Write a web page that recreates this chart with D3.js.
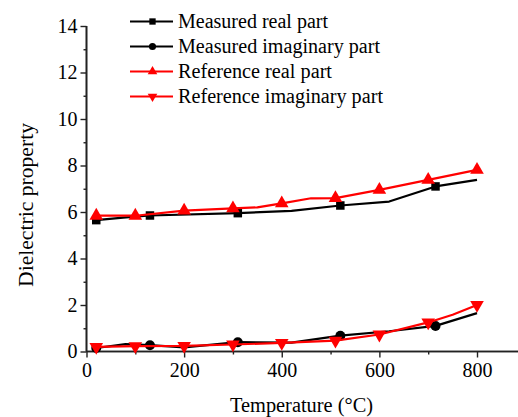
<!DOCTYPE html>
<html><head><meta charset="utf-8">
<script src="https://cdn.jsdelivr.net/npm/d3@7"></script>
<style>body{margin:0;background:#fff}svg{display:block}text{font-family:"Liberation Serif","Times New Roman",serif;fill:#000}</style>
</head><body><svg id="c" width="518" height="417"></svg>
<script>
// Data
const xMajorTicks = [0, 200, 400, 600, 800];
const xMinorTicks = [100, 300, 500, 700];
const yMajorTicks = [0, 2, 4, 6, 8, 10, 12, 14];
const yMinorTicks = [1, 3, 5, 7, 9, 11, 13];

const measRealT = [20, 75, 130, 310, 420, 520, 620, 715, 800];
const measRealV = [5.65, 5.76, 5.85, 5.95, 6.05, 6.28, 6.45, 7.1, 7.38];
const measRealMarkers = [20, 130, 310, 520, 715];

const measImagT = [20, 80, 130, 200, 310, 420, 520, 620, 715, 800];
const measImagV = [0.15, 0.32, 0.27, 0.18, 0.40, 0.38, 0.68, 0.87, 1.1, 1.65];
const measImagMarkers = [20, 130, 310, 520, 715];

const refRealT = [20, 100, 200, 300, 350, 400, 460, 510, 600, 700, 800];
const refRealV = [5.84, 5.84, 6.06, 6.16, 6.2, 6.37, 6.59, 6.6, 6.95, 7.38, 7.81];
const refRealMarkers = [20, 100, 200, 300, 400, 510, 600, 700, 800];

const refImagT = [20, 100, 200, 300, 400, 510, 600, 700, 750, 800];
const refImagV = [0.2, 0.23, 0.24, 0.3, 0.37, 0.47, 0.73, 1.25, 1.58, 2.0];
const refImagMarkers = [20, 100, 200, 300, 400, 510, 600, 700, 800];

const seriesNames = ["Measured real part", "Measured imaginary part", "Reference real part", "Reference imaginary part"];
const legendWidths = [150, 202, 154, 205];

const svg = d3.select("#c");
const x = d3.scaleLinear().domain([0, 885]).range([86.5, 518.5]);
const y = d3.scaleLinear().domain([0, 14]).range([351.5, 26]);

// axes
const gx = svg.append("g").attr("transform", `translate(0,${y(0)})`);
gx.call(d3.axisBottom(x).tickValues(xMajorTicks).tickSize(6).tickPadding(5).tickFormat(d3.format("d")));
gx.append("g").call(d3.axisBottom(x).tickValues(xMinorTicks).tickSize(3).tickFormat(""));
const gy = svg.append("g").attr("transform", `translate(${x(0)},0)`);
gy.call(d3.axisLeft(y).tickValues(yMajorTicks).tickSize(6).tickPadding(3).tickFormat(d3.format("d")));
gy.append("g").call(d3.axisLeft(y).tickValues(yMinorTicks).tickSize(3).tickFormat(""));
svg.selectAll(".domain").attr("stroke", "#222").attr("stroke-width", 1.6);
svg.selectAll(".tick line").attr("stroke", "#222").attr("stroke-width", 1.4);
svg.selectAll(".tick text").style("font-size", "20px").style("font-family", '"Liberation Serif",serif').attr("fill", "#000");
gy.selectAll(".domain").attr("d", `M0,${y(14)}V${y(0)}`);
gx.selectAll(".domain").attr("d", `M${x(0)},0H${x(885)}`);

svg.append("text").attr("x", 301.5).attr("y", 412).attr("text-anchor", "middle").style("font-size", "20px")
  .attr("textLength", 143).attr("lengthAdjust", "spacingAndGlyphs").text("Temperature (°C)");
svg.append("text").attr("transform", "translate(33,205) rotate(-90)").attr("text-anchor", "middle").style("font-size", "20px")
  .attr("textLength", 164).attr("lengthAdjust", "spacingAndGlyphs").text("Dielectric property");

const line = d3.line().x(d => x(d[0])).y(d => y(d[1]));
const sym = {
  square: d3.symbol().type(d3.symbolSquare).size(72),
  circle: d3.symbol().type(d3.symbolCircle).size(78),
  up: d3.symbol().type(d3.symbolTriangle).size(80),
};
function drawSeries(T, V, M, color, shape) {
  const pts = T.map((t, i) => [t, V[i]]);
  svg.append("path").attr("d", line(pts)).attr("fill", "none").attr("stroke", color).attr("stroke-width", 2.2).attr("stroke-linejoin", "round");
  const mp = pts.filter(p => M.includes(p[0]));
  svg.selectAll(null).data(mp).enter().append("path")
    .attr("d", shape === "down" ? sym.up() : sym[shape]())
    .attr("transform", d => `translate(${x(d[0])},${y(d[1])})` + (shape === "down" ? " rotate(180)" : ""))
    .attr("fill", color);
}
drawSeries(measRealT, measRealV, measRealMarkers, "#000", "square");
drawSeries(measImagT, measImagV, measImagMarkers, "#000", "circle");
drawSeries(refRealT, refRealV, refRealMarkers, "#ff0000", "up");
drawSeries(refImagT, refImagV, refImagMarkers, "#ff0000", "down");

// legend
const legColors = ["#000", "#000", "#ff0000", "#ff0000"];
const legShapes = ["square", "circle", "up", "down"];
seriesNames.forEach((name, i) => {
  const yy = 21.5 + i * 25;
  svg.append("line").attr("x1", 130).attr("x2", 173).attr("y1", yy).attr("y2", yy).attr("stroke", legColors[i]).attr("stroke-width", 2.2);
  const s = legShapes[i];
  const t = s === "square" ? d3.symbolSquare : s === "circle" ? d3.symbolCircle : d3.symbolTriangle;
  svg.append("path").attr("d", d3.symbol().type(t).size(40)())
    .attr("transform", `translate(152.5,${yy})` + (s === "down" ? " rotate(180)" : "")).attr("fill", legColors[i]);
  svg.append("text").attr("x", 178).attr("y", yy + 6.5).style("font-size", "20px")
    .attr("textLength", legendWidths[i]).attr("lengthAdjust", "spacingAndGlyphs").text(name);
});
</script></body></html>
